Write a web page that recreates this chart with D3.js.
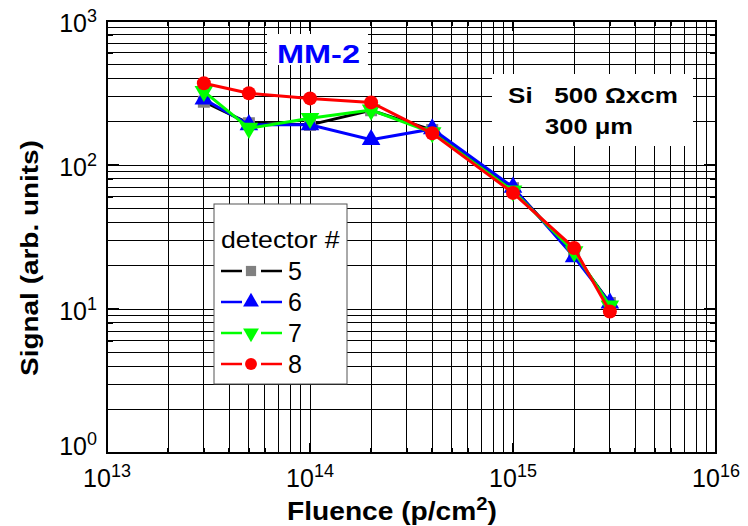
<!DOCTYPE html>
<html>
<head>
<meta charset="utf-8">
<script src="https://cdn.jsdelivr.net/npm/d3@7"></script>
<style>
  body { margin: 0; background: #fff; }
  svg { font-family: "Liberation Sans", Arial, sans-serif; }
</style>
</head>
<body>
<svg id="chart" width="748" height="526"></svg>
<script>
// fluence points (p/cm^2)
const fluence = [3e13, 5e13, 1e14, 2e14, 4e14, 1e15, 2e15, 3e15];
const detectors = ["5", "6", "7", "8"];
const signal5 = [275, 195, 190, 240, 175, 69, 24, 11];
const signal6 = [287, 190, 190, 150, 178, 70, 23, 11];
const signal7 = [325, 180, 211, 241, 168, 66, 25, 10.5];
const signal8 = [370, 315, 290, 272, 166, 64, 26.5, 9.6];
const xDecades = [13, 14, 15, 16];
const yDecades = [0, 1, 2, 3];

const series = [
  { name: "5", values: signal5, line: "#000", fill: "#808080", shape: "square" },
  { name: "6", values: signal6, line: "#0000ff", fill: "#0000ff", shape: "up" },
  { name: "7", values: signal7, line: "#00ff00", fill: "#00ff00", shape: "down" },
  { name: "8", values: signal8, line: "#ff0000", fill: "#ff0000", shape: "circle" }
];

const svg = d3.select("#chart");
const plotL = 107, plotR = 716, plotT = 21, plotB = 453;

const x = d3.scaleLog().domain([1e13, 1e16]).range([plotL, plotR]);
const y = d3.scaleLog().domain([1, 1000]).range([plotB, plotT]);

// stretch a text element horizontally to a given width around its anchor x
function fitWidth(t, w, cx) {
  const bb = t.node().getBBox();
  const k = w / bb.width;
  t.attr("transform", `translate(${cx},0) scale(${k},1) translate(${-cx},0)`);
}

// minor + major positions for each decade
const xMinor = [], yMinor = [];
for (let e = 13; e < 16; e++) for (let m = 2; m <= 9; m++) xMinor.push(m * Math.pow(10, e));
for (let e = 0; e < 3; e++) for (let m = 2; m <= 9; m++) yMinor.push(m * Math.pow(10, e));
const xMajor = xDecades.map(e => Math.pow(10, e));
const yMajor = yDecades.map(e => Math.pow(10, e));

// grid
const grid = svg.append("g").attr("stroke", "#000").attr("stroke-width", 1).attr("shape-rendering", "crispEdges");
grid.selectAll(".gx").data(xMinor.concat(xMajor)).join("line")
  .attr("x1", d => x(d)).attr("x2", d => x(d)).attr("y1", plotT).attr("y2", plotB);
grid.selectAll(".gy").data(yMinor.concat(yMajor)).join("line")
  .attr("y1", d => y(d)).attr("y2", d => y(d)).attr("x1", plotL).attr("x2", plotR);

// inward ticks on all four sides
const ticks = svg.append("g").attr("stroke", "#000").attr("stroke-width", 1.5).attr("shape-rendering", "crispEdges");
xMinor.concat(xMajor).forEach(d => {
  const len = xMajor.includes(d) ? 10 : 5;
  ticks.append("line").attr("x1", x(d)).attr("x2", x(d)).attr("y1", plotB).attr("y2", plotB - len);
  ticks.append("line").attr("x1", x(d)).attr("x2", x(d)).attr("y1", plotT).attr("y2", plotT + len);
});
yMinor.concat(yMajor).forEach(d => {
  const len = yMajor.includes(d) ? 12 : 6;
  ticks.append("line").attr("y1", y(d)).attr("y2", y(d)).attr("x1", plotL).attr("x2", plotL + len);
  ticks.append("line").attr("y1", y(d)).attr("y2", y(d)).attr("x1", plotR).attr("x2", plotR - len);
});

// frame
svg.append("rect").attr("x", plotL).attr("y", plotT).attr("width", plotR - plotL).attr("height", plotB - plotT)
  .attr("fill", "none").attr("stroke", "#000").attr("stroke-width", 2);

// tick labels: 10^n
xDecades.forEach(e => {
  const t = svg.append("text").attr("x", x(Math.pow(10, e))).attr("y", 487)
    .attr("text-anchor", "middle").attr("font-size", 25);
  t.append("tspan").text("10");
  t.append("tspan").attr("dy", -10).attr("font-size", 18).text(e);
});
yDecades.forEach(e => {
  const t = svg.append("text").attr("x", 97).attr("y", y(Math.pow(10, e)) + (e === 0 ? 2 : 11))
    .attr("text-anchor", "end").attr("font-size", 25);
  t.append("tspan").text("10");
  t.append("tspan").attr("dy", -10).attr("font-size", 18).text(e);
});

// axis titles
const xt = svg.append("text").attr("x", 392).attr("y", 520).attr("text-anchor", "middle")
  .attr("font-size", 25).attr("font-weight", "bold");
xt.append("tspan").text("Fluence (p/cm");
xt.append("tspan").attr("dy", -10).attr("font-size", 18).text("2");
xt.append("tspan").attr("dy", 10).text(")");
fitWidth(xt, 210, 392);

const ytg = svg.append("g").attr("transform", "translate(38,258) rotate(-90)");
const yt = ytg.append("text").attr("x", 0).attr("y", 0).attr("text-anchor", "middle")
  .attr("font-size", 24).attr("font-weight", "bold").text("Signal (arb. units)");
fitWidth(yt, 236, 0);

// markers
function marker(g, shape, fill, s) {
  if (shape === "circle") g.append("circle").attr("r", 7 * s).attr("fill", fill);
  else if (shape === "square") g.append("rect").attr("x", -6 * s).attr("y", -6 * s).attr("width", 12 * s).attr("height", 12 * s).attr("fill", fill);
  else if (shape === "up") g.append("path").attr("d", d3.symbol(d3.symbolTriangle, 150 * s * s)()).attr("fill", fill);
  else g.append("path").attr("d", d3.symbol(d3.symbolTriangle, 150 * s * s)()).attr("transform", "rotate(180)").attr("fill", fill);
}

const line = d3.line().x((d, i) => x(fluence[i])).y(d => y(d));
series.forEach(s => {
  const g = svg.append("g");
  g.append("path").attr("d", line(s.values)).attr("fill", "none")
    .attr("stroke", s.line).attr("stroke-width", 3);
  s.values.forEach((v, i) => {
    marker(g.append("g").attr("transform", `translate(${x(fluence[i])},${y(v)})`), s.shape, s.fill, 1);
  });
});

// sample label boxes
svg.append("rect").attr("x", 267).attr("y", 34).attr("width", 101).attr("height", 31).attr("fill", "#fff");
const mm = svg.append("text").attr("x", 318.5).attr("y", 63).attr("text-anchor", "middle").attr("font-size", 26)
  .attr("font-weight", "bold").attr("fill", "#0000ff").text("MM-2");
fitWidth(mm, 83, 318.5);

svg.append("rect").attr("x", 492).attr("y", 74).attr("width", 201).attr("height", 72).attr("fill", "#fff");
const si = svg.append("text").attr("x", 593).attr("y", 103).attr("text-anchor", "middle").attr("font-size", 22)
  .attr("font-weight", "bold").attr("xml:space", "preserve").text("Si   500 \u03A9xcm");
fitWidth(si, 170, 593);
const th = svg.append("text").attr("x", 589).attr("y", 134).attr("text-anchor", "middle").attr("font-size", 22)
  .attr("font-weight", "bold").text("300 \u03BCm");
fitWidth(th, 88, 589);

// legend
const lg = svg.append("g");
lg.append("rect").attr("x", 214).attr("y", 204).attr("width", 133).attr("height", 180)
  .attr("fill", "#fff").attr("stroke", "#555").attr("stroke-width", 1);
const dt = lg.append("text").attr("x", 221).attr("y", 248).attr("font-size", 23).text("detector #");
fitWidth(dt, 119, 221);
series.forEach((s, i) => {
  const yy = 271 + i * 31;
  lg.append("line").attr("x1", 221).attr("x2", 242).attr("y1", yy).attr("y2", yy).attr("stroke", s.line).attr("stroke-width", 2.5);
  lg.append("line").attr("x1", 261).attr("x2", 282).attr("y1", yy).attr("y2", yy).attr("stroke", s.line).attr("stroke-width", 2.5);
  marker(lg.append("g").attr("transform", `translate(251,${yy})`), s.shape, s.fill, 0.85);
  lg.append("text").attr("x", 288).attr("y", yy + 9).attr("font-size", 25).text(detectors[i]);
});
</script>
</body>
</html>
